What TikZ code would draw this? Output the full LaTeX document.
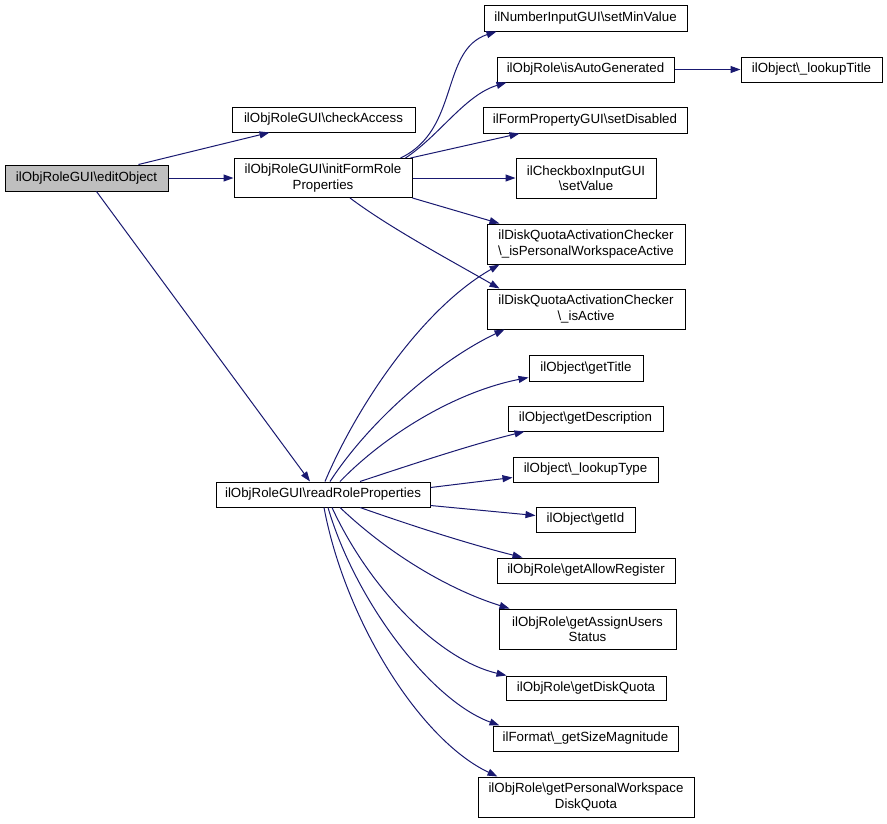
\documentclass[tikz,border=0pt]{standalone}
\usepackage{fontspec}
\setmainfont{Liberation Sans}
\usetikzlibrary{arrows.meta}
\definecolor{edgeblue}{HTML}{191970}
\definecolor{boxgray}{HTML}{BFBFBF}
\tikzset{
  box/.style={draw=black, line width=1pt, inner sep=0pt, align=center, font=\fontsize{13.3}{15.5}\selectfont},
  call/.style={draw=edgeblue, line width=1pt, -{Triangle[length=10pt,width=7pt]}, edgeblue},
}
\newcommand{\bs}{\textbackslash}
\begin{document}
\begin{tikzpicture}[x=1pt,y=-1pt]
\useasboundingbox (0,0) rectangle (887,823);
% nodes
\node[box, fill=boxgray, minimum width=163pt, minimum height=26pt] (edit) at (86.5,178) {ilObjRoleGUI\bs editObject};
\node[box, minimum width=183pt, minimum height=25pt] (chk) at (323.5,119.5) {ilObjRoleGUI\bs checkAccess};
\node[box, minimum width=178pt, minimum height=39pt] (init) at (323,178) {ilObjRoleGUI\bs initFormRole\\Properties};
\node[box, minimum width=214pt, minimum height=25pt] (read) at (323,494.5) {ilObjRoleGUI\bs readRoleProperties};
\node[box, minimum width=203pt, minimum height=26pt] (minv) at (585.5,18) {ilNumberInputGUI\bs setMinValue};
\node[box, minimum width=177pt, minimum height=25pt] (auto) at (585.5,69.5) {ilObjRole\bs isAutoGenerated};
\node[box, minimum width=141pt, minimum height=25pt] (ltit) at (811.5,69.5) {ilObject\bs\_lookupTitle};
\node[box, minimum width=204pt, minimum height=26pt] (dis) at (585,120) {ilFormPropertyGUI\bs setDisabled};
\node[box, minimum width=140pt, minimum height=40pt] (sval) at (586,178) {ilCheckboxInputGUI\\\bs setValue};
\node[box, minimum width=198pt, minimum height=40pt] (pwa) at (586,244) {ilDiskQuotaActivationChecker\\\bs\_isPersonalWorkspaceActive};
\node[box, minimum width=198pt, minimum height=40pt] (act) at (586,309) {ilDiskQuotaActivationChecker\\\bs\_isActive};
\node[box, minimum width=114pt, minimum height=26pt] (gt) at (586,368) {ilObject\bs getTitle};
\node[box, minimum width=155pt, minimum height=25pt] (gd) at (585.5,418.5) {ilObject\bs getDescription};
\node[box, minimum width=145pt, minimum height=25pt] (lt) at (585.5,469.5) {ilObject\bs\_lookupType};
\node[box, minimum width=99pt, minimum height=25pt] (gi) at (585.5,519.5) {ilObject\bs getId};
\node[box, minimum width=178pt, minimum height=25pt] (ar) at (586,570.5) {ilObjRole\bs getAllowRegister};
\node[box, minimum width=177pt, minimum height=40pt] (au) at (587.5,629) {ilObjRole\bs getAssignUsers\\Status};
\node[box, minimum width=160pt, minimum height=24pt] (dq) at (586,688) {ilObjRole\bs getDiskQuota};
\node[box, minimum width=185pt, minimum height=25pt] (sm) at (585.5,738.5) {ilFormat\bs\_getSizeMagnitude};
\node[box, minimum width=216pt, minimum height=40pt] (pq) at (586,797) {ilObjRole\bs getPersonalWorkspace\\DiskQuota};
% edges from editObject
\draw[call] ([xshift=52pt]edit.north) -- ([xshift=-54pt]chk.south);
\draw[call] (edit.east) -- (init.west);
\draw[call] ([xshift=10pt]edit.south) -- ([xshift=-13pt]read.north);
% edges from initFormRoleProperties
\draw[call] ([xshift=-12pt]init.north east) .. controls (460,130) and (440,50) .. ([xshift=13pt]minv.south west);
\draw[call] ([xshift=-7pt]init.north east) .. controls (440,135) and (465,95) .. ([xshift=10pt]auto.south west);
\draw[call] ([xshift=-2pt]init.north east) -- ([xshift=37pt]dis.south west);
\draw[call] (init.east) -- (sval.west);
\draw[call] (init.south east) -- ([xshift=13pt]pwa.north west);
\draw[call] ([xshift=27pt]init.south) .. controls (390,228) and (450,260) .. ([xshift=13pt]act.north west);
% isAutoGenerated
\draw[call] (auto.east) -- (ltit.west);
% edges from readRoleProperties
\draw[call] ([xshift=2pt]read.north) .. controls (355,410) and (420,310) .. ([xshift=13pt]pwa.south west);
\draw[call] ([xshift=7pt]read.north) .. controls (370,420) and (440,360) .. ([xshift=18pt]act.south west);
\draw[call] ([xshift=17pt]read.north) .. controls (385,435) and (455,392) .. ([yshift=4pt]gt.south west);
\draw[call] ([xshift=37pt]read.north) .. controls (410,465) and (470,445) .. ([xshift=17pt]gd.south west);
\draw[call] ([yshift=-6pt]read.north east) -- ([yshift=5pt]lt.south west);
\draw[call] ([yshift=2pt]read.south east) -- ([yshift=4pt]gi.west);
\draw[call] ([xshift=37pt]read.south) .. controls (410,525) and (465,543) .. ([xshift=26pt]ar.north west);
\draw[call] ([xshift=17pt]read.south) .. controls (390,555) and (450,590) .. ([xshift=11pt]au.north west);
\draw[call] ([xshift=9pt]read.south) .. controls (370,590) and (440,660) .. ([xshift=1pt]dq.north west);
\draw[call] ([xshift=5pt]read.south) .. controls (355,600) and (430,700) .. ([xshift=7pt]sm.north west);
\draw[call] ([xshift=1pt]read.south) .. controls (345,620) and (420,740) .. ([xshift=20pt]pq.north west);
\end{tikzpicture}
\end{document}
